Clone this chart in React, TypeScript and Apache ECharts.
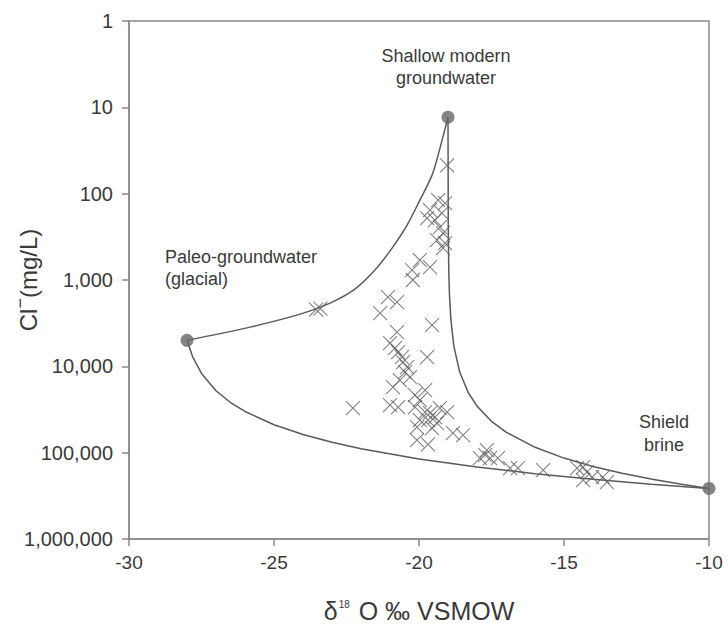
import React, { useEffect, useRef } from "react";
import * as echarts from "echarts";

// End-members: Shallow modern groundwater, Paleo-groundwater (glacial), Shield brine
const endmemberNames = ["Shallow modern groundwater", "Paleo-groundwater (glacial)", "Shield brine"];
const endmemberX = [-19, -28, -10];
const endmemberCl = [13, 5000, 260000];

// Mixing curve: paleo -> shallow
const curvePaleoShallowX = [-28, -25.83, -24.1, -23.07, -22.21, -21.52, -20.93, -20.41, -19.97, -19.55, -19.28, -19];
const curvePaleoShallowCl = [5000, 3515, 2485, 1853, 1274, 768, 427, 231, 119, 61, 30, 13];

// Mixing curve: shallow -> brine
const curveShallowBrineX = [-19, -18.99, -18.97, -18.95, -18.9, -18.8, -18.6, -18.3, -18, -17.5, -17, -16, -15, -14, -13, -12, -11, -10];
const curveShallowBrineCl = [13, 302, 880, 1457, 2900, 5790, 11570, 20235, 28900, 43345, 57790, 86680, 115570, 144450, 173340, 202230, 231120, 260000];

// Mixing curve: paleo -> brine
const curvePaleoBrineX = [-28, -27.8, -27.5, -27, -26.5, -26, -25, -24, -23, -22, -20, -18, -16, -14, -12, -10];
const curvePaleoBrineCl = [5000, 7833, 12083, 19167, 26250, 33333, 47500, 61667, 75833, 90000, 118333, 146667, 175000, 203333, 231667, 260000];

// Samples
const sampleX = [
  -19.03, -19.34, -19.1, -19.62, -19.21, -19.45, -19.72, -19.28, -19.17, -19.38, -19.1, -19.17,
  -19.97, -20.24, -19.62, -20.21, -21.07, -20.76, -21.34, -23.55, -23.4,
  -19.55, -20.76, -21.0, -20.83, -20.72, -20.59, -20.55, -20.41, -20.48, -20.31, -19.72,
  -20.9, -20.66, -19.79, -20.14, -19.97, -22.28, -21.0, -20.72, -20.14, -19.79, -19.62,
  -19.45, -19.28, -19.03, -19.69, -19.38, -19.97, -20.07, -19.55, -18.83, -18.48, -20.07, -19.69,
  -17.66, -17.72, -17.55, -17.28, -17.9, -16.86, -16.59, -15.72,
  -14.55, -14.34, -14.21, -14.03, -14.34, -13.66, -13.52
];
const sampleCl = [
  47, 119, 129, 155, 168, 202, 192, 244, 286, 345, 374, 427,
  588, 768, 708, 1000, 1578, 1800, 2420, 2200, 2150,
  3333, 4018, 5388, 6154, 6840, 7822, 8933, 10200, 11670, 13340, 7822,
  17400, 14450, 18880, 21580, 24660, 30480, 28180, 29720, 29720, 33950, 34840,
  38800, 30480, 33950, 42000, 45500, 42000, 50700, 52000, 59400, 62700, 71600, 80000,
  93500, 107000, 115800, 115800, 115800, 151300, 151300, 159600,
  151300, 147200, 168300, 192300, 208400, 192300, 219600
];

const xTicks = [-30, -25, -20, -15, -10];
const yTicks = [1, 10, 100, 1000, 10000, 100000, 1000000];

const FONT = "'Liberation Sans', Arial, Helvetica, sans-serif";
const TEXT = "#3a3a3a";
const LINE = "#5a5a5a";
const AXIS = "#8a8a8a";

export default function App() {
  const ref = useRef<HTMLDivElement>(null);

  useEffect(() => {
    document.body.style.margin = "0";
    if (!ref.current) return;
    const chart = echarts.init(ref.current, undefined, { renderer: "svg" });

    const zip = (xs: number[], ys: number[]) => xs.map((x, i) => [x, ys[i]]);
    const curveStyle = {
      type: "line" as const,
      showSymbol: false,
      symbol: "none",
      lineStyle: { color: LINE, width: 1.5 },
      z: 2,
      silent: true,
    };

    chart.setOption({
      animation: false,
      backgroundColor: "#ffffff",
      textStyle: { fontFamily: FONT },
      grid: {
        left: 129,
        right: 19,
        top: 21,
        bottom: 94,
        containLabel: false,
        outerBoundsMode: "none",
        show: true,
        borderColor: AXIS,
        borderWidth: 1.5,
      },
      xAxis: {
        type: "value",
        min: xTicks[0],
        max: xTicks[xTicks.length - 1],
        interval: 5,
        axisLine: { show: true, lineStyle: { color: AXIS, width: 1.5 } },
        axisTick: { show: true, length: 7, lineStyle: { color: AXIS, width: 1.5 } },
        splitLine: { show: false },
        axisLabel: { color: TEXT, fontSize: 19, margin: 14, fontFamily: FONT },
        name: "δ{sup|18} O ‰ VSMOW",
        nameLocation: "middle",
        nameGap: 59,
        nameMoveOverlap: false,
        nameTextStyle: {
          color: TEXT,
          fontSize: 25,
          fontFamily: FONT,
          rich: {
            sup: { fontSize: 10, padding: [0, 2, 13, 1], color: TEXT, fontFamily: FONT },
          },
        },
      },
      yAxis: {
        type: "log",
        logBase: 10,
        min: yTicks[0],
        max: yTicks[yTicks.length - 1],
        inverse: true,
        axisLine: { show: true, lineStyle: { color: AXIS, width: 1.5 } },
        axisTick: { show: true, length: 7, lineStyle: { color: AXIS, width: 1.5 } },
        minorTick: { show: false },
        splitLine: { show: false },
        axisLabel: {
          color: TEXT,
          fontSize: 20,
          margin: 16,
          fontFamily: FONT,
          formatter: (v: number) => Math.round(v).toLocaleString("en-US"),
        },
        name: "Cl{sup|−}(mg/L)",
        nameLocation: "middle",
        nameGap: 84,
        nameRotate: 90,
        nameMoveOverlap: false,
        nameTextStyle: {
          color: TEXT,
          fontSize: 24,
          fontFamily: FONT,
          rich: {
            sup: { fontSize: 18, padding: [0, 0, 16, 0], color: TEXT, fontFamily: FONT },
          },
        },
      },
      series: [
        { ...curveStyle, smooth: 0.3, name: "Paleo–Shallow mixing", data: zip(curvePaleoShallowX, curvePaleoShallowCl) },
        { ...curveStyle, name: "Shallow–Brine mixing", data: zip(curveShallowBrineX, curveShallowBrineCl) },
        { ...curveStyle, name: "Paleo–Brine mixing", data: zip(curvePaleoBrineX, curvePaleoBrineCl) },
        {
          type: "scatter",
          name: "Samples",
          data: zip(sampleX, sampleCl),
          symbol: "path://M0 0L10 10M10 0L0 10",
          symbolSize: 14,
          itemStyle: { color: "none", borderColor: "#626262", borderWidth: 1.1 },
          z: 3,
          silent: true,
        },
        {
          type: "scatter",
          name: "End-members",
          data: endmemberX.map((x, i) => ({ value: [x, endmemberCl[i]], name: endmemberNames[i] })),
          symbol: "circle",
          symbolSize: 13,
          itemStyle: { color: "#676767" },
          z: 4,
          silent: true,
        },
      ],
      graphic: [
        {
          type: "text",
          x: 446,
          y: 45,
          style: {
            text: "Shallow modern\ngroundwater",
            fill: TEXT,
            font: `18px ${FONT}`,
            lineHeight: 22,
            align: "center",
            textAlign: "center",
          },
        },
        {
          type: "text",
          x: 165,
          y: 246,
          style: {
            text: "Paleo-groundwater\n(glacial)",
            fill: TEXT,
            font: `18px ${FONT}`,
            lineHeight: 22,
            textAlign: "left",
          },
        },
        {
          type: "text",
          x: 664,
          y: 410,
          style: {
            text: "Shield\nbrine",
            fill: TEXT,
            font: `18px ${FONT}`,
            lineHeight: 23,
            align: "center",
            textAlign: "center",
          },
        },
      ],
    });

    return () => chart.dispose();
  }, []);

  return <div ref={ref} style={{ width: 728, height: 633 }} />;
}
